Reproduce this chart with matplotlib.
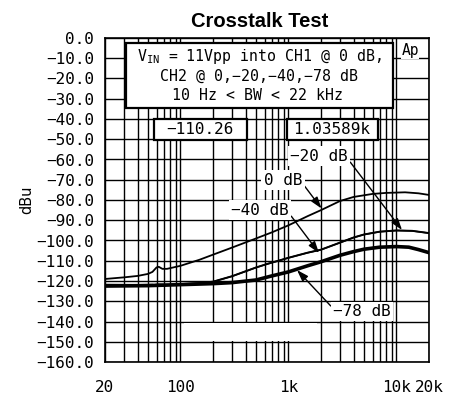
import matplotlib
matplotlib.use("Agg")
import matplotlib.pyplot as plt
from matplotlib.patches import Rectangle
import numpy as np

# ---------------- data ----------------
f_0db = [20, 30, 40, 50, 55, 60, 63, 68, 75, 100, 150, 200, 300, 500, 700, 1000,
         1500, 2000, 3000, 4000, 6000, 8000, 12000, 16000, 20000]
v_0db = [-119, -118.2, -117.5, -116.5, -115.5, -113.3, -113.0, -114.0, -114.0, -112.5,
         -109.5, -107, -103.5, -99, -96, -92.5, -88, -85, -80.5, -78.5, -77, -76.5,
         -76.2, -76.7, -77.5]

f_20db = [20, 40, 55, 62, 70, 80, 100, 150, 200, 300, 500, 630, 1000, 1500, 2000, 3000,
          4000, 5000, 7000, 10000, 14000, 20000]
v_20db = [-121.8, -121.9, -121.8, -122.2, -122.3, -121.9, -121.5, -121.0, -120.3, -117.6,
          -113.3, -111.6, -108.5, -106, -104.5, -101, -98.5, -97, -95.6, -95, -95.2, -96.3]

f_40db = [20, 40, 55, 62, 70, 80, 100, 150, 200, 300, 500, 630, 1000, 1500, 2000, 3000,
          4000, 5000, 7000, 10000, 14000, 20000]
v_40db = [-122.3, -122.2, -122.0, -121.6, -121.7, -121.8, -121.6, -121.1, -120.4, -117.7,
          -113.4, -111.7, -108.6, -106.1, -104.6, -101.1, -98.6, -97.1, -95.7, -95.1, -95.3, -96.4]

f_78db = [20, 50, 100, 200, 300, 500, 700, 1000, 1500, 2000, 3000, 4000, 5000, 7000,
          10000, 13000, 16000, 20000]
v_78db = [-122.5, -122.3, -121.8, -121.3, -120.8, -119.5, -117.5, -115.5, -112.5, -110.5,
          -107.3, -105.5, -104.3, -103.3, -103.0, -103.3, -104.5, -106.0]

x_major = [20, 100, 1000, 10000, 20000]
x_major_labels = ["20", "100", "1k", "10k", "20k"]
x_grid = ([20, 30, 40, 50, 60, 70, 80, 90, 100] + [200, 300, 400, 500, 600, 700, 800, 900, 1000]
          + [2000, 3000, 4000, 5000, 6000, 7000, 8000, 9000, 10000, 20000])
y_ticks = list(range(0, -170, -10))
y_tick_labels = [("%.1f" % v).replace("-", "\u2212") for v in y_ticks]

title = "Crosstalk Test"
ylabel = "dBu"

# ---------------- figure ----------------
MONO = ['DejaVu Sans Mono', 'DejaVu Sans']
plt.rcParams['font.family'] = MONO
plt.rcParams['mathtext.fontset'] = 'custom'
plt.rcParams['mathtext.rm'] = 'DejaVu Sans Mono'
fig = plt.figure(figsize=(4.55, 4.11), dpi=100)
ax = fig.add_axes([105/455, 1-362/411, (429-105)/455, (362-38)/411])

ax.set_xscale('log')
ax.set_xlim(20, 20000)
ax.set_ylim(-160, 0)

ax.set_xticks(x_major)
ax.set_xticklabels(x_major_labels, fontsize=11.5)
ax.set_xticks([g for g in x_grid if g not in x_major], minor=True)
ax.xaxis.set_minor_formatter(matplotlib.ticker.NullFormatter())
ax.set_yticks(y_ticks)
ax.set_yticklabels(y_tick_labels, fontsize=11.5)
ax.tick_params(axis='both', which='both', length=0)
ax.tick_params(axis='x', pad=13)
ax.tick_params(axis='y', pad=8)
ax.set_axisbelow(True)
ax.grid(True, which='both', color='black', lw=1.0)
for s in ax.spines.values():
    s.set_linewidth(1.2)

fig.text(260/455, 1-27/411, title, fontsize=14.5, fontweight='bold',
         family=['Liberation Sans', 'DejaVu Sans'], ha='center', va='baseline')
ax.set_ylabel(ylabel, fontsize=10.5, family=['DejaVu Sans'])
ax.yaxis.set_label_coords(-(105-34)/324, 0.5)

# blank band
ax.add_patch(Rectangle((108, -149.5), 1850 - 108, 9.0, facecolor='white', edgecolor='none', zorder=1.5))

# curves
ax.plot(f_0db, v_0db, color='black', lw=1.3, zorder=2)
ax.plot(f_20db, v_20db, color='black', lw=1.3, zorder=2)
ax.plot(f_40db, v_40db, color='black', lw=1.2, zorder=2)
ax.plot(f_78db, v_78db, color='black', lw=2.6, zorder=2)

# helpers to convert pixel positions to data
def px(x):
    return 20 * 10 ** ((x - 105) / 108.0)
def py(y):
    return -(y - 38) / 20.25 * 10

# main info box
ax.add_patch(Rectangle((px(126), py(108)), px(393) - px(126), py(43) - py(108),
                       facecolor='white', edgecolor='black', lw=1.6, zorder=4))
ax.text(px(259), py(57), r"$\mathrm{V_{IN}}$ = 11Vpp into CH1 @ 0 dB,", ha='center', va='center',
        fontsize=10.7, zorder=5)
ax.text(px(259), py(76), "CH2 @ 0,\u221220,\u221240,\u221278 dB", ha='center', va='center',
        fontsize=10.7, zorder=5)
ax.text(px(257), py(96), "10 Hz < BW < 22 kHz", ha='center', va='center', fontsize=10.7, zorder=5)

# cursor readouts
ax.add_patch(Rectangle((px(154), py(140)), px(247) - px(154), py(119) - py(140),
                       facecolor='white', edgecolor='black', lw=1.6, zorder=4))
ax.text(px(200), py(129.5), "\u2212110.26", ha='center', va='center', fontsize=11.5, zorder=5)
ax.add_patch(Rectangle((px(287), py(140)), px(378) - px(287), py(119) - py(140),
                       facecolor='white', edgecolor='black', lw=1.6, zorder=4))
ax.text(px(332), py(129.5), "1.03589k", ha='center', va='center', fontsize=11.5, zorder=5)

# Ap logo
ax.text(px(410), py(51), "Ap", ha='center', va='center', fontsize=10.5, zorder=5,
        bbox=dict(boxstyle='square,pad=0.05', fc='white', ec='none'))

# curve labels with arrows
arrow = dict(arrowstyle='-|>,head_length=0.6,head_width=0.2', color='black', lw=1.0,
             shrinkA=0, shrinkB=0)
lab_bbox = dict(boxstyle='square,pad=0.15', fc='white', ec='none')
ax.annotate("\u221220 dB", xy=(px(402), py(230)), xytext=(px(319), py(156)),
            ha='center', va='center', fontsize=11.5, bbox=lab_bbox, zorder=5,
            arrowprops=dict(arrow, relpos=(1.0, 0.3)))
ax.annotate("0 dB", xy=(px(321.5), py(208.5)), xytext=(px(283), py(180)),
            ha='center', va='center', fontsize=11.5, bbox=lab_bbox, zorder=5,
            arrowprops=dict(arrow, relpos=(1.0, 0.3)))
ax.annotate("\u221240 dB", xy=(px(319), py(253)), xytext=(px(260), py(210)),
            ha='center', va='center', fontsize=11.5, bbox=lab_bbox, zorder=5,
            arrowprops=dict(arrow, relpos=(1.0, 0.3)))
ax.annotate("\u221278 dB", xy=(px(297), py(270)), xytext=(px(362), py(311.5)),
            ha='center', va='center', fontsize=11.5, bbox=lab_bbox, zorder=5,
            arrowprops=dict(arrow, relpos=(0.0, 0.7)))

fig.savefig("out.png", dpi=100)
